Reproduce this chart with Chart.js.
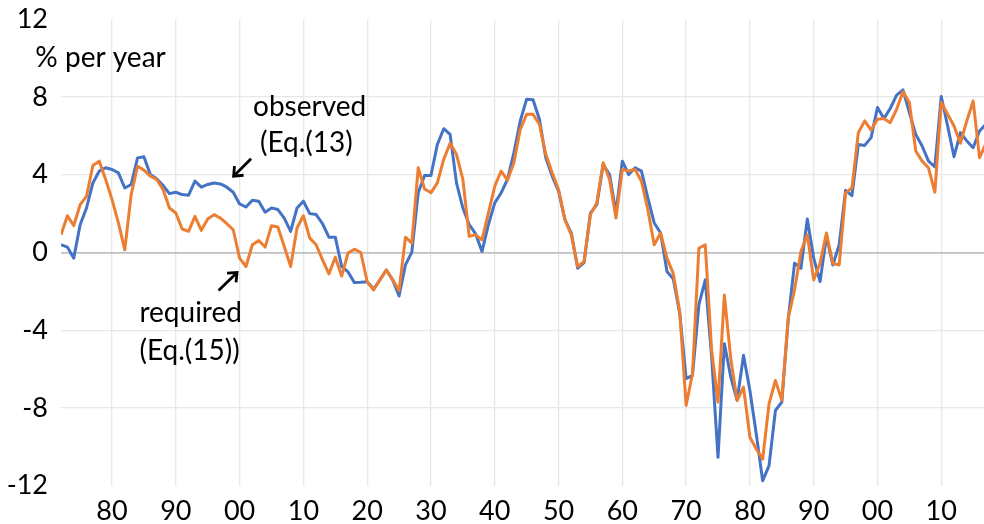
<!DOCTYPE html>
<html>
<head>
<meta charset="utf-8">
<script src="https://cdn.jsdelivr.net/npm/chart.js@4"></script>
<style>
  html, body { margin: 0; padding: 0; background: #ffffff; }
  #wrap { width: 984px; height: 524px; }
</style>
</head>
<body>
<div id="wrap"><canvas id="c" width="984" height="524"></canvas></div>
<script>
const years = [1872,1873,1874,1875,1876,1877,1878,1879,1880,1881,1882,1883,1884,1885,1886,1887,1888,1889,
  1890,1891,1892,1893,1894,1895,1896,1897,1898,1899,1900,1901,1902,1903,1904,1905,1906,1907,1908,1909,
  1910,1911,1912,1913,1914,1915,1916,1917,1918,1919,1920,1921,1922,1923,1924,1925,1926,1927,1928,1929,
  1930,1931,1932,1933,1934,1935,1936,1937,1938,1939,1940,1941,1942,1943,1944,1945,1946,1947,1948,1949,
  1950,1951,1952,1953,1954,1955,1956,1957,1958,1959,1960,1961,1962,1963,1964,1965,1966,1967,1968,1969,
  1970,1971,1972,1973,1974,1975,1976,1977,1978,1979,1980,1981,1982,1983,1984,1985,1986,1987,1988,1989,
  1990,1991,1992,1993,1994,1995,1996,1997,1998,1999,2000,2001,2002,2003,2004,2005,2006,2007,2008,2009,
  2010,2011,2012,2013,2014,2015,2016,2017];

const observed = [0.40,0.28,-0.29,1.43,2.29,3.58,4.19,4.36,4.27,4.10,3.32,3.50,4.87,4.93,4.01,3.79,3.45,3.03,
  3.10,2.98,2.95,3.67,3.36,3.50,3.58,3.53,3.36,3.10,2.50,2.34,2.69,2.64,2.07,2.29,2.21,1.77,1.09,2.29,
  2.64,2.00,1.95,1.48,0.79,0.79,-0.72,-1.00,-1.55,-1.53,-1.50,-1.88,-1.41,-0.90,-1.41,-2.24,-0.64,0.02,3.07,3.96,
  3.96,5.56,6.37,6.08,3.58,2.29,1.43,0.96,0.05,1.43,2.55,3.07,3.76,5.13,6.77,7.89,7.86,6.86,4.88,3.93,
  3.15,1.69,1.00,-0.81,-0.52,2.03,2.46,4.53,4.01,2.03,4.70,4.01,4.36,4.19,2.81,1.52,1.00,-0.98,-1.37,-3.14,
  -6.49,-6.32,-2.70,-1.41,-5.37,-10.54,-4.69,-6.41,-7.61,-5.29,-7.10,-9.34,-11.75,-10.97,-8.13,-7.70,-3.48,-0.55,-0.81,1.72,
  -0.29,-1.50,0.83,-0.64,0.40,3.20,2.93,5.56,5.51,5.91,7.46,6.89,7.41,8.10,8.37,7.20,6.08,5.48,4.70,4.41,
  8.03,6.51,4.93,6.17,5.74,5.39,6.25,6.60];

const required = [0.91,1.89,1.38,2.46,2.89,4.48,4.70,3.76,2.72,1.52,0.14,2.98,4.44,4.24,3.93,3.76,3.24,2.29,
  2.03,1.21,1.09,1.86,1.14,1.72,1.95,1.77,1.48,1.17,-0.29,-0.72,0.40,0.62,0.28,1.38,1.31,0.31,-0.72,1.26,
  1.89,0.74,0.40,-0.38,-1.10,-0.24,-1.21,-0.03,0.17,0.00,-1.50,-1.93,-1.41,-0.90,-1.41,-1.96,0.79,0.48,4.36,3.27,
  3.07,3.58,4.79,5.62,5.05,3.76,0.83,0.91,0.65,2.03,3.41,4.19,3.72,4.62,6.34,7.11,7.11,6.60,5.05,4.10,
  3.24,1.69,0.91,-0.72,-0.47,1.95,2.55,4.62,3.76,1.77,4.27,4.19,4.27,3.67,2.20,0.40,1.00,-0.29,-1.10,-3.05,
  -7.87,-6.24,0.22,0.40,-5.03,-7.70,-2.19,-5.46,-7.61,-6.93,-9.51,-10.11,-10.63,-7.79,-6.58,-7.61,-3.39,-1.93,0.05,0.91,
  -1.41,-0.55,1.00,-0.55,-0.64,3.07,3.32,6.17,6.77,6.30,6.86,6.89,6.68,7.37,8.27,7.72,5.22,4.70,4.36,3.10,
  7.72,7.11,6.51,5.62,6.77,7.80,4.88,5.60];

const yTicks = [-12, -8, -4, 0, 4, 8, 12];
const xTickYears = [1880, 1890, 1900, 1910, 1920, 1930, 1940, 1950, 1960, 1970, 1980, 1990, 2000, 2010];

const FONT = 'Lato, "Open Sans", "DejaVu Sans", sans-serif';

const annotations = {
  id: 'annotations',
  afterDraw(chart) {
    const ctx = chart.ctx;
    const xs = chart.scales.x, ys = chart.scales.y;
    const P = (yr, v) => [xs.getPixelForValue(yr), ys.getPixelForValue(v)];
    ctx.save();
    ctx.fillStyle = '#000';
    ctx.textAlign = 'left';
    ctx.textBaseline = 'alphabetic';
    ctx.font = '28px ' + FONT;
    const texts = [
      ['% per year', 1867.98, 9.55],
      ['observed', 1902.1, 7.01],
      ['(Eq.(13)', 1903.2, 5.15],
      ['required', 1884.3, -3.57],
      ['(Eq.(15))', 1884.3, -5.55]
    ];
    texts.forEach(([t, yr, v]) => { const [px, py] = P(yr, v); ctx.fillText(t, px, py); });

    const arrows = [
      [[1901.8, 4.83], [1899.06, 3.93]],
      [[1896.7, -1.95], [1899.6, -1.03]]
    ];
    ctx.strokeStyle = '#000';
    ctx.fillStyle = '#000';
    ctx.lineWidth = 2.8;
    arrows.forEach(([a, b]) => {
      const [x1, y1] = P(a[0], a[1]);
      const [x2, y2] = P(b[0], b[1]);
      const ang = Math.atan2(y2 - y1, x2 - x1);
      ctx.beginPath();
      ctx.moveTo(x1, y1);
      ctx.lineTo(x2 - Math.cos(ang) * 2, y2 - Math.sin(ang) * 2);
      ctx.stroke();
      const L = 10, w = Math.PI / 4.5;
      ctx.beginPath();
      ctx.moveTo(x2 - L * Math.cos(ang - w), y2 - L * Math.sin(ang - w));
      ctx.lineTo(x2, y2);
      ctx.lineTo(x2 - L * Math.cos(ang + w), y2 - L * Math.sin(ang + w));
      ctx.lineJoin = 'miter';
      ctx.stroke();
    });
    ctx.restore();
  }
};

new Chart(document.getElementById('c'), {
  type: 'line',
  data: {
    datasets: [
      {
        label: 'observed (Eq.(13))',
        data: years.map((yr, i) => ({ x: yr, y: observed[i] })),
        borderColor: '#4472C4',
        borderWidth: 3,
        pointRadius: 0,
        tension: 0,
        fill: false,
        order: 1,
        borderJoinStyle: 'round'
      },
      {
        label: 'required (Eq.(15))',
        data: years.map((yr, i) => ({ x: yr, y: required[i] })),
        borderColor: '#ED7D31',
        borderWidth: 3,
        pointRadius: 0,
        tension: 0,
        fill: false,
        order: 0,
        borderJoinStyle: 'round'
      }
    ]
  },
  options: {
    responsive: false,
    animation: false,
    layout: { padding: { top: 19.3, right: 0, bottom: 0, left: 0 } },
    plugins: { legend: { display: false }, tooltip: { enabled: false } },
    scales: {
      x: {
        type: 'linear',
        min: 1872,
        max: 2016.7,
        afterBuildTicks: s => { s.ticks = xTickYears.map(v => ({ value: v })); },
        afterFit: s => { s.height = 38.3; s.paddingLeft = 0; s.paddingRight = 0; },
        ticks: {
          autoSkip: false,
          maxRotation: 0,
          padding: 9,
          color: '#000',
          font: { family: FONT, size: 27 },
          callback: v => String(v % 100).padStart(2, '0')
        },
        grid: { color: '#e8e8e8', lineWidth: 1.3, drawTicks: false },
        border: { display: false }
      },
      y: {
        min: -12,
        max: 12,
        afterBuildTicks: s => { s.ticks = yTicks.map(v => ({ value: v })); },
        afterFit: s => { s.width = 61; s.paddingTop = 0; s.paddingBottom = 0; },
        ticks: {
          padding: 13,
          color: '#000',
          font: { family: FONT, size: 27 }
        },
        grid: {
          drawTicks: false,
          color: c => c.tick.value === 0 ? '#c0c0c0' : (Math.abs(c.tick.value) === 12 ? 'rgba(0,0,0,0)' : '#e8e8e8'),
          lineWidth: c => c.tick.value === 0 ? 1.8 : 1.3
        },
        border: { display: false }
      }
    }
  },
  plugins: [annotations]
});
</script>
</body>
</html>
